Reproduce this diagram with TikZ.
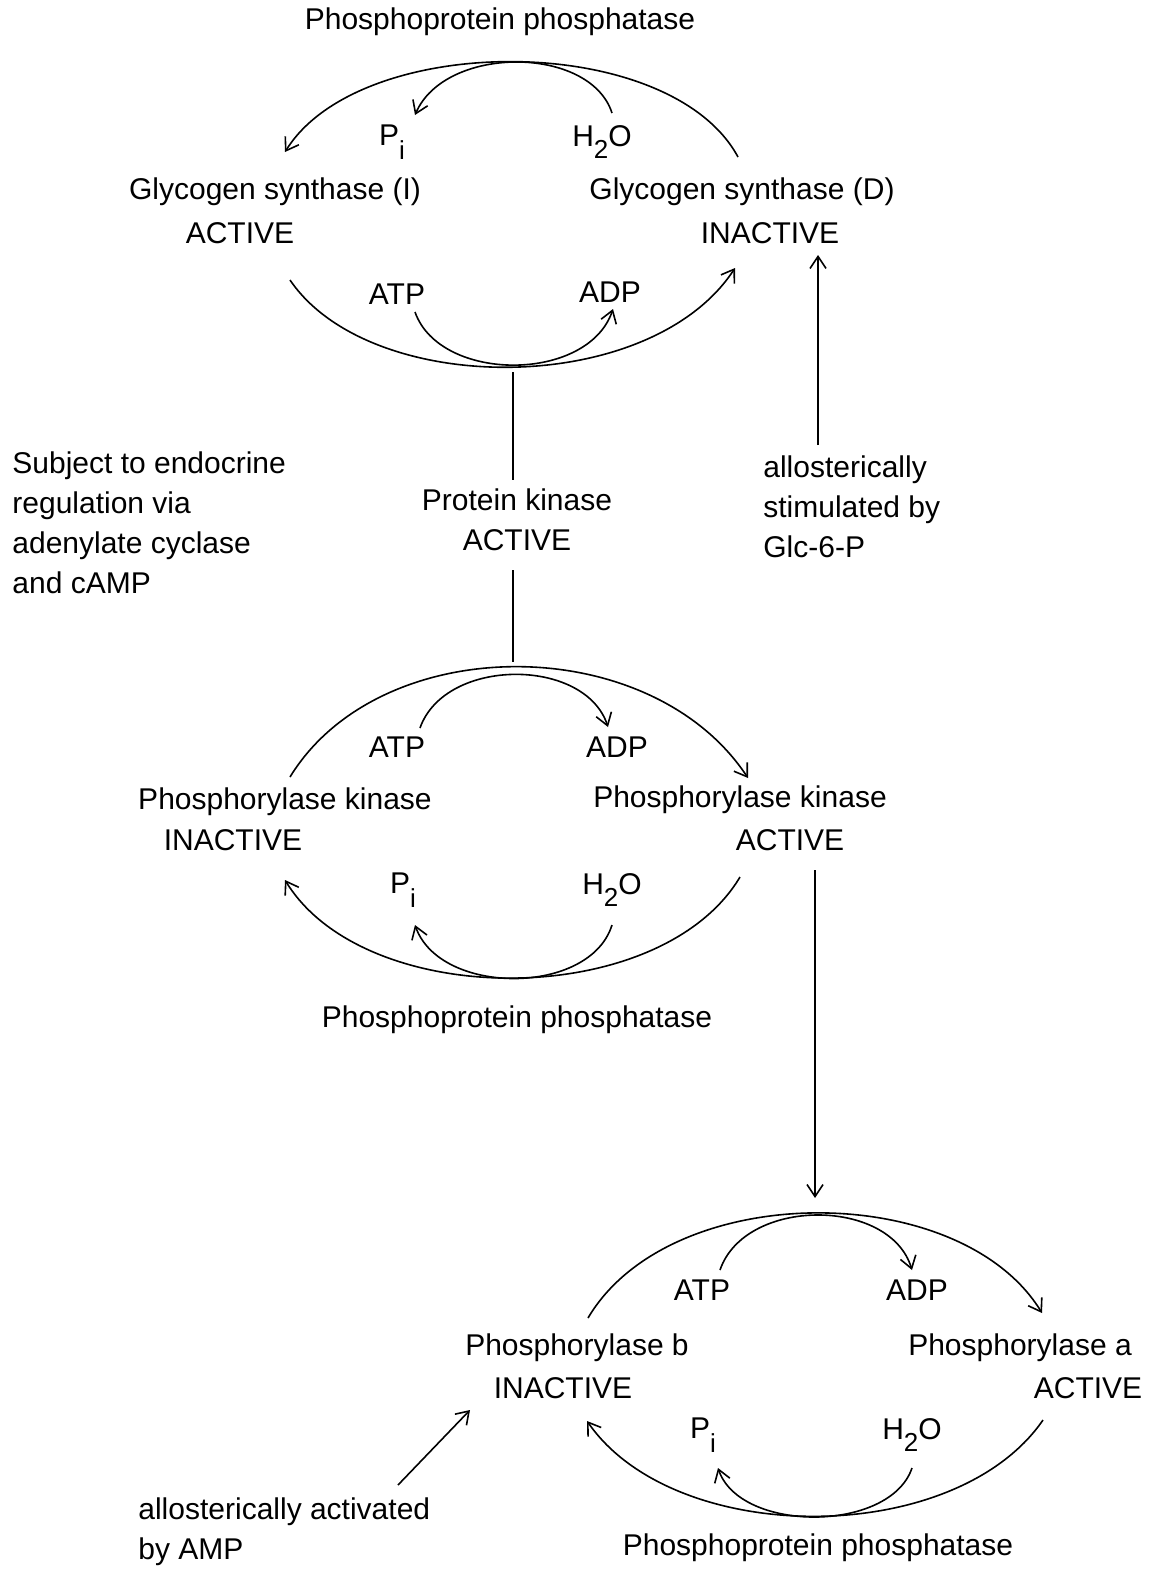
\documentclass[tikz,border=0pt]{standalone}
\usepackage{fontspec}
\setmainfont{Liberation Sans}
\usetikzlibrary{arrows.meta}
\newcommand\Psubi{P\raisebox{-0.9ex}{\fontsize{13}{13}\selectfont i}}
\newcommand\Hsubtwo{H\raisebox{-0.7ex}{\fontsize{13}{13}\selectfont 2}O}
\begin{document}
\begin{tikzpicture}[x=0.5pt,y=-0.5pt,
  every node/.style={font=\fontsize{15}{20}\selectfont, inner sep=0pt},
  blk/.style={align=left, anchor=north west},
  ln/.style={line width=0.8pt},
  arr/.style={ln, -{Straight Barb[length=6pt,width=8pt]}}]
\useasboundingbox (0,0) rectangle (1152,1574);

% ---------- top cycle ----------
\node (pp1) at (500,22) {Phosphoprotein phosphatase};
\node (pi1) at (392,142) {\Psubi};
\node (h2o1) at (602,142) {\Hsubtwo};
\node (gsi) at (275,192) {Glycogen synthase (I)};
\node (gsia) at (240,233) {ACTIVE};
\node (gsd) at (742,192) {Glycogen synthase (D)};
\node (gsdi) at (770,233) {INACTIVE};
\node (atp1) at (397,294) {ATP};
\node (adp1) at (610,292) {ADP};

\coordinate (t1a) at (738,157);
\coordinate (t1b) at (285,152);
\coordinate (t1c) at (612,113);
\coordinate (t1d) at (415,115);
\coordinate (b1a) at (290,280);
\coordinate (b1b) at (735,268);
\coordinate (b1c) at (415,312);
\coordinate (b1d) at (613,309);
\draw[arr] (t1a) .. controls (670,31) and (360,31) .. (t1b);
\draw[arr] (t1c) .. controls (590,45) and (445,45) .. (t1d);
\draw[arr] (b1a) .. controls (370,398) and (650,398) .. (b1b);
\draw[arr] (b1c) .. controls (440,383) and (588,383) .. (b1d);

% ---------- protein kinase ----------
\node (pk) at (517,500) {Protein kinase};
\node (pka) at (517,540) {ACTIVE};
\coordinate (v1a) at (513,372);
\coordinate (v1b) at (513,480);
\coordinate (v2a) at (513,570);
\coordinate (v2b) at (513,662);
\draw[ln] (v1a) -- (v1b);
\draw[ln] (v2a) -- (v2b);

\node[blk] (endo) at (12,451) {Subject to endocrine\\regulation via\\adenylate cyclase\\and cAMP};
\node[blk] (allo1) at (763,455) {allosterically\\stimulated by\\Glc-6-P};
\coordinate (g6a) at (818,445);
\coordinate (g6b) at (818,255);
\draw[arr] (g6a) -- (g6b);

% ---------- middle cycle ----------
\node (atp2) at (397,747) {ATP};
\node (adp2) at (617,747) {ADP};
\node (phk1) at (285,802) {Phosphorylase kinase};
\node (phk1i) at (233,840) {INACTIVE};
\node (phk2) at (740,800) {Phosphorylase kinase};
\node (phk2a) at (790,840) {ACTIVE};
\node (pi2) at (403,890) {\Psubi};
\node (h2o2) at (612,890) {\Hsubtwo};
\node (pp2) at (517,1020) {Phosphoprotein phosphatase};

\coordinate (t2a) at (290,777);
\coordinate (t2b) at (748,778);
\coordinate (t2c) at (420,728);
\coordinate (t2d) at (608,727);
\coordinate (b2a) at (740,877);
\coordinate (b2b) at (285,880);
\coordinate (b2c) at (612,925);
\coordinate (b2d) at (415,925);
\draw[arr] (t2a) .. controls (380,630) and (650,630) .. (t2b);
\draw[arr] (t2c) .. controls (445,657) and (585,657) .. (t2d);
\draw[arr] (b2a) .. controls (660,1011) and (365,1011) .. (b2b);
\draw[arr] (b2c) .. controls (590,996) and (440,996) .. (b2d);

\coordinate (v3a) at (815,870);
\coordinate (v3b) at (815,1198);
\draw[arr] (v3a) -- (v3b);

% ---------- bottom cycle ----------
\node (atp3) at (702,1290) {ATP};
\node (adp3) at (917,1290) {ADP};
\node (phb) at (577,1348) {Phosphorylase b};
\node (phbi) at (563,1388) {INACTIVE};
\node (pha) at (1020,1348) {Phosphorylase a};
\node (phaa) at (1088,1388) {ACTIVE};
\node (pi3) at (703,1435) {\Psubi};
\node (h2o3) at (912,1435) {\Hsubtwo};
\node (pp3) at (818,1548) {Phosphoprotein phosphatase};

\coordinate (t3a) at (588,1318);
\coordinate (t3b) at (1042,1313);
\coordinate (t3c) at (720,1270);
\coordinate (t3d) at (912,1270);
\coordinate (b3a) at (1043,1420);
\coordinate (b3b) at (587,1421);
\coordinate (b3c) at (912,1468);
\coordinate (b3d) at (718,1468);
\draw[arr] (t3a) .. controls (670,1179) and (960,1179) .. (t3b);
\draw[arr] (t3c) .. controls (745,1197) and (890,1197) .. (t3d);
\draw[arr] (b3a) .. controls (955,1548) and (675,1548) .. (b3b);
\draw[arr] (b3c) .. controls (890,1533) and (740,1533) .. (b3d);

\node[blk] (allo2) at (138,1497) {allosterically activated\\by AMP};
\coordinate (amp1) at (398,1485);
\coordinate (amp2) at (470,1410);
\draw[arr] (amp1) -- (amp2);
\end{tikzpicture}
\end{document}
